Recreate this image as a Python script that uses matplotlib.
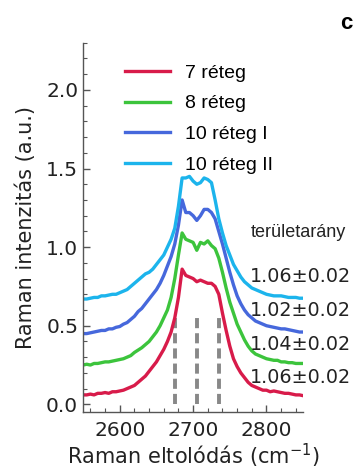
import numpy as np
import matplotlib
matplotlib.use("Agg")
import matplotlib.pyplot as plt
from matplotlib.ticker import MultipleLocator

# Raman shift axis (cm^-1), step 5
shift = np.arange(2550, 2851, 5)

r7 = [0.06, 0.06, 0.065, 0.06, 0.07, 0.07, 0.075, 0.07, 0.08, 0.08,
      0.085, 0.09, 0.10, 0.11, 0.12, 0.14, 0.16, 0.18, 0.21, 0.24,
      0.27, 0.31, 0.35, 0.40, 0.46, 0.55, 0.68, 0.86, 0.82, 0.81,
      0.80, 0.78, 0.79, 0.78, 0.77, 0.77, 0.75, 0.70, 0.58, 0.47,
      0.37, 0.29, 0.24, 0.20, 0.17, 0.14, 0.12, 0.11, 0.10, 0.09,
      0.09, 0.08, 0.085, 0.08, 0.075, 0.07, 0.07, 0.065, 0.06, 0.06, 0.055]

r8 = [0.25, 0.255, 0.25, 0.26, 0.26, 0.265, 0.27, 0.27, 0.275, 0.28,
      0.285, 0.29, 0.30, 0.31, 0.33, 0.345, 0.36, 0.38, 0.40, 0.43,
      0.46, 0.50, 0.55, 0.60, 0.68, 0.80, 0.95, 1.09, 1.05, 1.04,
      1.03, 0.98, 1.03, 1.02, 1.04, 1.01, 0.99, 0.93, 0.84, 0.74,
      0.65, 0.58, 0.51, 0.46, 0.41, 0.37, 0.34, 0.32, 0.31, 0.30,
      0.29, 0.285, 0.28, 0.28, 0.27, 0.27, 0.265, 0.265, 0.26, 0.26, 0.26]

r10a = [0.45, 0.45, 0.455, 0.46, 0.465, 0.47, 0.47, 0.48, 0.48, 0.49,
        0.495, 0.51, 0.52, 0.54, 0.56, 0.59, 0.61, 0.64, 0.67, 0.70,
        0.73, 0.77, 0.82, 0.88, 0.94, 1.02, 1.14, 1.30, 1.22, 1.22,
        1.20, 1.17, 1.20, 1.24, 1.24, 1.22, 1.18, 1.10, 1.02, 0.93,
        0.84, 0.76, 0.69, 0.64, 0.60, 0.57, 0.55, 0.53, 0.52, 0.51,
        0.50, 0.495, 0.49, 0.485, 0.48, 0.48, 0.475, 0.47, 0.465, 0.46, 0.46]

r10b = [0.67, 0.67, 0.675, 0.68, 0.68, 0.69, 0.69, 0.695, 0.70, 0.70,
        0.71, 0.72, 0.73, 0.75, 0.77, 0.79, 0.81, 0.83, 0.84, 0.86,
        0.89, 0.92, 0.95, 1.00, 1.05, 1.12, 1.26, 1.44, 1.44, 1.45,
        1.42, 1.40, 1.41, 1.44, 1.43, 1.41, 1.30, 1.18, 1.09, 1.01,
        0.95, 0.89, 0.85, 0.81, 0.78, 0.76, 0.74, 0.73, 0.72, 0.71,
        0.70, 0.695, 0.69, 0.69, 0.69, 0.685, 0.68, 0.68, 0.68, 0.675, 0.675]

labels = ["7 réteg", "8 réteg", "10 réteg I", "10 réteg II"]
colors = ["#d81b4a", "#3cc43c", "#4668dc", "#1cb4ec"]

peak_pos = [2675, 2705, 2735]
ratios = ["1.06±0.02", "1.02±0.02", "1.04±0.02", "1.06±0.02"]
ratio_y = [0.81, 0.60, 0.38, 0.17]

fig = plt.figure(figsize=(3.55, 4.7), dpi=100)
ax = fig.add_axes([0.234, 0.123, 0.62, 0.786])

for y, lab, col in zip([r7, r8, r10a, r10b], labels, colors):
    ax.plot(shift, y, color=col, lw=2.4, label=lab)

for p in peak_pos:
    ax.plot([p, p], [0.0, 0.55], color="#888888", lw=2.8,
            dashes=(2.6, 1.3), zorder=1)

ax.set_xlim(2550, 2850)
ax.set_ylim(-0.05, 2.3)
ax.spines["top"].set_visible(False)
ax.spines["right"].set_visible(False)
for s in ["left", "bottom"]:
    ax.spines[s].set_color("#555555")
    ax.spines[s].set_linewidth(1.0)

ax.xaxis.set_major_locator(MultipleLocator(100))
ax.xaxis.set_minor_locator(MultipleLocator(20))
ax.yaxis.set_major_locator(MultipleLocator(0.5))
ax.yaxis.set_minor_locator(MultipleLocator(0.1))
ax.set_yticks(np.arange(0, 2.01, 0.5))
ax.tick_params(which="both", direction="in", color="#555555",
               labelsize=14.5, labelcolor="#222222")
ax.tick_params(axis="x", pad=6)
ax.tick_params(which="major", length=5, width=1.0)
ax.tick_params(which="minor", length=3, width=0.8)
ax.yaxis.set_major_formatter(matplotlib.ticker.FormatStrFormatter("%.1f"))

ax.set_xlabel("Raman eltolódás (cm$^{-1}$)", fontsize=15, labelpad=1.5,
              color="#222222")
ax.set_ylabel("Raman intenzitás (a.u.)", fontsize=15, labelpad=7,
              color="#222222")

ax.legend(loc="upper left", bbox_to_anchor=(0.11, 0.99), frameon=False,
          prop={"family": "Liberation Sans", "size": 14},
          handlelength=2.3, handletextpad=0.8, labelspacing=0.68)

ax.text(2778, 1.09, "területarány", family="Liberation Sans", fontsize=13,
        va="center", ha="left", clip_on=False, color="#222222")
for t, yy in zip(ratios, ratio_y):
    ax.text(2778, yy, t, fontsize=13.8, va="center", ha="left",
            clip_on=False, color="#222222")

fig.text(0.975, 0.95, "c", family="Liberation Sans", fontweight="bold",
         fontsize=16, ha="center", va="center")

fig.savefig("out.png", dpi=100)
